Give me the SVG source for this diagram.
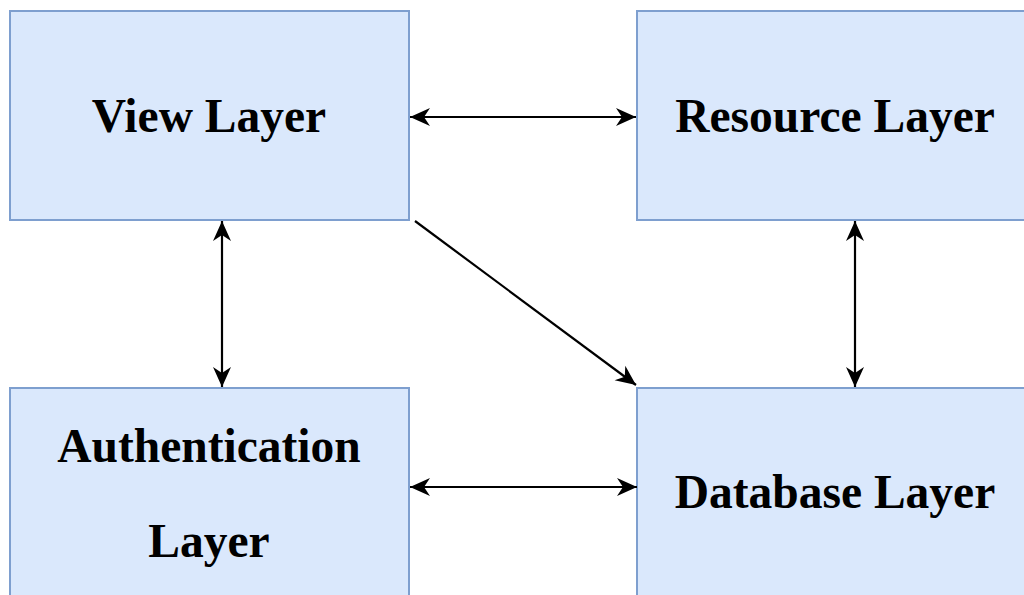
<svg xmlns="http://www.w3.org/2000/svg" width="1024" height="595" viewBox="0 0 1024 595">
<style>
.box{fill:#dae8fc;stroke:#7e9fcf;stroke-width:2}
.lbl{font-family:"Liberation Serif","Times New Roman",serif;font-weight:bold;font-size:47.5px;fill:#000;text-anchor:middle}
.con{stroke:#000;stroke-width:2.2;fill:none}
</style>
<defs>
<marker id="ah" viewBox="0 0 20 20" refX="20" refY="10" markerWidth="22" markerHeight="20" markerUnits="userSpaceOnUse" orient="auto-start-reverse">
<path d="M0,1 L20,10 L0,19 L6,10 Z" fill="#000"/>
</marker>
</defs>
<rect width="1024" height="595" fill="#fff"/>
<g id="view">
<rect class="box" x="10" y="11" width="399" height="209"/>
<text class="lbl" x="209" y="132">View Layer</text>
</g>
<g id="resource">
<rect class="box" x="637" y="11" width="399" height="209"/>
<text class="lbl" x="835" y="132">Resource Layer</text>
</g>
<g id="auth">
<rect class="box" x="10" y="388" width="399" height="215"/>
<text class="lbl" x="209" y="462">Authentication</text>
<text class="lbl" x="209" y="557">Layer</text>
</g>
<g id="database">
<rect class="box" x="637" y="388" width="399" height="215"/>
<text class="lbl" x="835" y="508">Database Layer</text>
</g>
<g id="connectors">
<line class="con" x1="410" y1="117" x2="636" y2="117" marker-start="url(#ah)" marker-end="url(#ah)"/>
<line class="con" x1="222" y1="221" x2="222" y2="387" marker-start="url(#ah)" marker-end="url(#ah)"/>
<line class="con" x1="855" y1="221" x2="855" y2="387" marker-start="url(#ah)" marker-end="url(#ah)"/>
<line class="con" x1="410" y1="487" x2="637" y2="487" marker-start="url(#ah)" marker-end="url(#ah)"/>
<line class="con" x1="415" y1="221" x2="636" y2="385" marker-end="url(#ah)"/>
</g>
</svg>
